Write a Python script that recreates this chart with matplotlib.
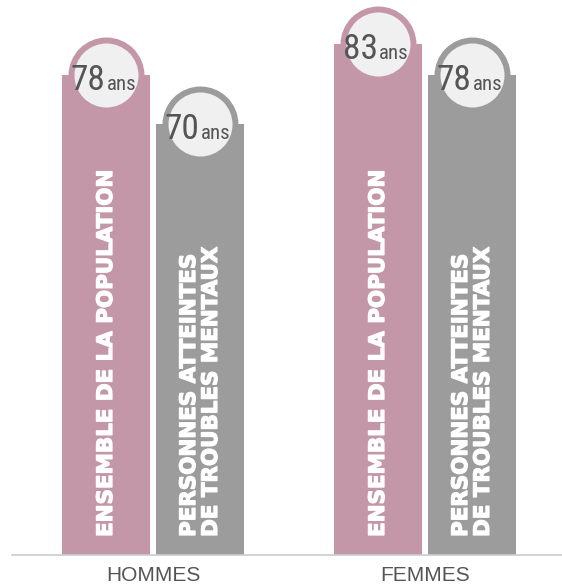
import numpy as np
import matplotlib
matplotlib.use('Agg')
import matplotlib.pyplot as plt
import matplotlib.patheffects as pe
from matplotlib import font_manager

# Data
groups = ['HOMMES', 'FEMMES']
series = ['ENSEMBLE DE LA POPULATION', 'PERSONNES ATTEINTES\nDE TROUBLES MENTAUX']
ages_pop = [78, 83]
ages_troubles = [70, 78]

col_pop = '#c497a8'
col_tr = '#9c9c9c'
txt_col = '#555555'

# pick a narrow font for the numbers if there is one
names = {f.name for f in font_manager.fontManager.ttflist}
narrow = 'DejaVu Sans'
for cand in ['Roboto Condensed', 'Liberation Sans Narrow', 'Open Sans Condensed']:
    if cand in names:
        narrow = cand
        break

fig = plt.figure(figsize=(5.62, 5.84), dpi=100)
ax = fig.add_axes([12 / 562, 29 / 584, 550 / 562, 555 / 584])

x = np.arange(len(groups))
w = 0.3235
off = 0.1728

ax.bar(x - off, ages_pop, width=w, color=col_pop, zorder=2)
ax.bar(x + off, ages_troubles, width=w, color=col_tr, zorder=2)

ax.set_xlim(-0.5184, 1.5037)
ax.set_ylim(0, 90.1)

bold_fx = [pe.withStroke(linewidth=0.9, foreground='white')]

for xs, vals, col, lab in [(x - off, ages_pop, col_pop, series[0]),
                           (x + off, ages_troubles, col_tr, series[1])]:
    # circle badges on top of bars
    ax.scatter(xs, vals, s=50.4 ** 2, facecolor='#f0f0f0', edgecolor=col,
               linewidth=4.3, zorder=3, clip_on=False)
    for xi, v in zip(xs, vals):
        ax.annotate(str(v), (xi, v), xytext=(-0.3, -10.8), textcoords='offset points',
                    ha='right', va='baseline', fontsize=25.5, color=txt_col,
                    family=narrow, fontstretch='condensed', zorder=4)
        ax.annotate('ans', (xi, v), xytext=(0.9, -10.8), textcoords='offset points',
                    ha='left', va='baseline', fontsize=15, color=txt_col,
                    family=narrow, fontstretch='condensed', zorder=4)
        ax.annotate(lab, (xi, 0), xytext=(0, 13), textcoords='offset points',
                    rotation=90, ha='center', va='bottom', multialignment='left',
                    fontsize=15.4, fontweight='bold', color='white',
                    family='DejaVu Sans', linespacing=1.12, zorder=4,
                    path_effects=bold_fx)

for s in ['top', 'right', 'left']:
    ax.spines[s].set_visible(False)
ax.spines['bottom'].set_color('#cccccc')
ax.spines['bottom'].set_linewidth(1.2)
ax.spines['bottom'].set_zorder(5)
ax.set_yticks([])
ax.set_xticks(x)
ax.set_xticklabels(groups, family='Liberation Sans')
ax.tick_params(axis='x', length=0, pad=8, labelsize=15, labelcolor=txt_col)

fig.savefig('out.png', dpi=100)
